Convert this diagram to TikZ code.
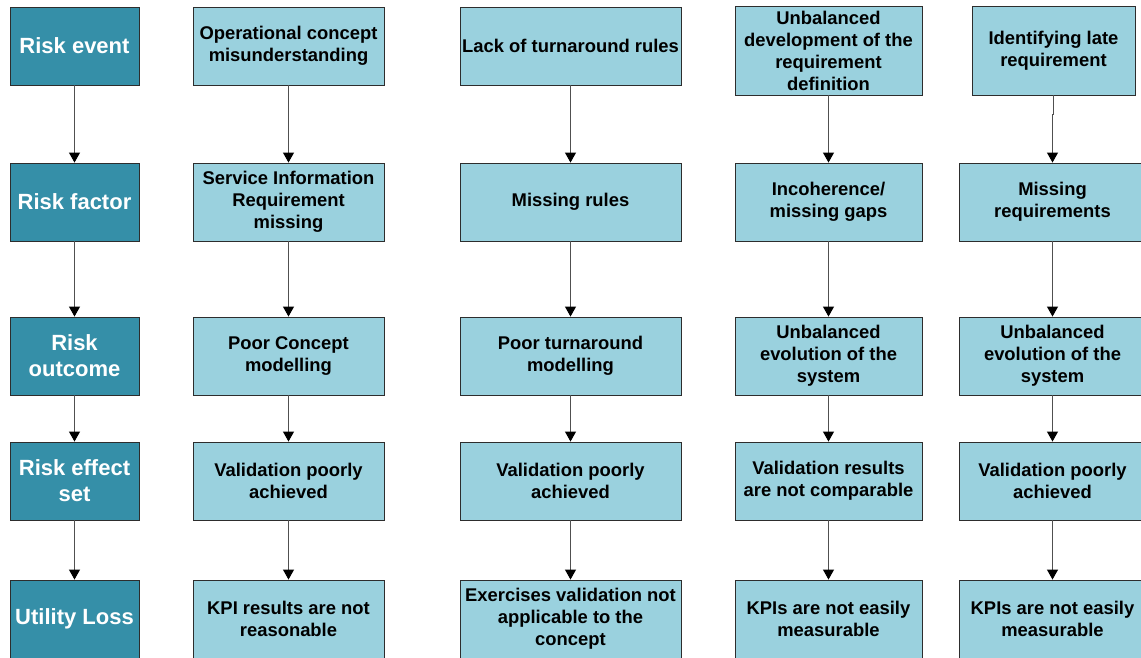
\documentclass[tikz,border=0pt]{standalone}
\usepackage{fontspec}
\setmainfont{Liberation Sans}
\usetikzlibrary{arrows.meta}
\definecolor{catfill}{RGB}{53,143,168}
\definecolor{itemfill}{RGB}{154,209,222}
\definecolor{boxline}{RGB}{45,45,45}
\definecolor{linkline}{RGB}{80,80,80}
\tikzset{
  basebox/.style={draw=boxline, line width=0.9pt, inner sep=0pt, align=center, font=\bfseries},
  catbox/.style={basebox, fill=catfill, text=white, minimum width=129pt,
    font=\bfseries\fontsize{22}{26}\selectfont},
  itembox/.style={basebox, fill=itemfill, text=black,
    font=\bfseries\fontsize{18.4}{22}\selectfont},
  link/.style={draw=linkline, line width=1pt, -{Triangle[width=11pt,length=10pt,fill=black,color=black]}},
}
\begin{document}
\begin{tikzpicture}[x=1pt,y=-1pt]
\useasboundingbox (0,0) rectangle (1141,657);

% category column
\node[catbox, minimum height=78pt] (c1) at (74.5,46) {Risk event};
\node[catbox, minimum height=78pt] (c2) at (74.5,202) {Risk factor};
\node[catbox, minimum height=78pt] (c3) at (74.5,356) {Risk\\outcome};
\node[catbox, minimum height=78pt] (c4) at (74.5,481) {Risk effect\\set};
\node[catbox, minimum height=78pt] (c5) at (74.5,619) {Utility Loss};

% first chain
\node[itembox, minimum width=191pt, minimum height=78pt] (a1) at (288.5,46) {Operational concept\\misunderstanding};
\node[itembox, minimum width=191pt, minimum height=78pt] (a2) at (288.5,202) {Service Information\\Requirement\\missing};
\node[itembox, minimum width=191pt, minimum height=78pt] (a3) at (288.5,356) {Poor Concept\\modelling};
\node[itembox, minimum width=191pt, minimum height=78pt] (a4) at (288.5,481) {Validation poorly\\achieved};
\node[itembox, minimum width=191pt, minimum height=78pt] (a5) at (288.5,619) {KPI results are not\\reasonable};

% second chain
\node[itembox, minimum width=221pt, minimum height=78pt] (b1) at (570.5,46) {Lack of turnaround rules};
\node[itembox, minimum width=221pt, minimum height=78pt] (b2) at (570.5,202) {Missing rules};
\node[itembox, minimum width=221pt, minimum height=78pt] (b3) at (570.5,356) {Poor turnaround\\modelling};
\node[itembox, minimum width=221pt, minimum height=78pt] (b4) at (570.5,481) {Validation poorly\\achieved};
\node[itembox, minimum width=221pt, minimum height=78pt] (b5) at (570.5,619) {Exercises validation not\\applicable to the\\concept};

% third chain
\node[itembox, minimum width=187pt, minimum height=89pt] (d1) at (828.5,50.5) {Unbalanced\\development of the\\requirement\\definition};
\node[itembox, minimum width=187pt, minimum height=78pt] (d2) at (828.5,202) {Incoherence/\\missing gaps};
\node[itembox, minimum width=187pt, minimum height=78pt] (d3) at (828.5,356) {Unbalanced\\evolution of the\\system};
\node[itembox, minimum width=187pt, minimum height=78pt] (d4) at (828.5,481) {Validation results\\are not comparable};
\node[itembox, minimum width=187pt, minimum height=78pt] (d5) at (828.5,619) {KPIs are not easily\\measurable};

% fourth chain
\node[itembox, minimum width=163pt, minimum height=89pt] (e1) at (1053.5,50.5) {Identifying late\\requirement};
\node[itembox, minimum width=187pt, minimum height=78pt] (e2) at (1052.5,202) {Missing\\requirements};
\node[itembox, minimum width=187pt, minimum height=78pt] (e3) at (1052.5,356) {Unbalanced\\evolution of the\\system};
\node[itembox, minimum width=187pt, minimum height=78pt] (e4) at (1052.5,481) {Validation poorly\\achieved};
\node[itembox, minimum width=187pt, minimum height=78pt] (e5) at (1052.5,619) {KPIs are not easily\\measurable};

% links down each column
\foreach \col in {c,a,b,d} {
  \draw[link] (\col1.south) -- (\col2.north);
  \draw[link] (\col2.south) -- (\col3.north);
  \draw[link] (\col3.south) -- (\col4.north);
  \draw[link] (\col4.south) -- (\col5.north);
}
\draw[link] (e1.south) -- ++(0,19) -| (e2.north);
\draw[link] (e2.south) -- (e3.north);
\draw[link] (e3.south) -- (e4.north);
\draw[link] (e4.south) -- (e5.north);
\end{tikzpicture}
\end{document}
